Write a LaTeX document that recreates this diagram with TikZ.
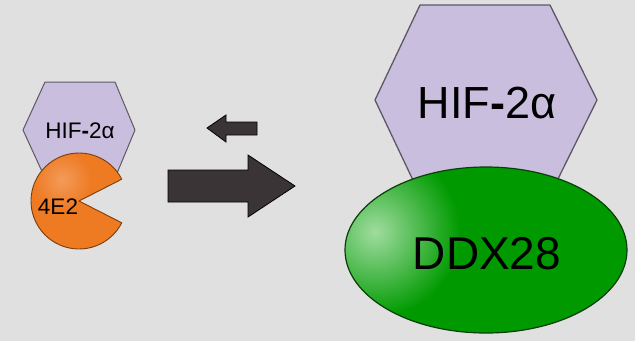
\documentclass[tikz,border=0pt]{standalone}
\usepackage{fontspec}
\setmainfont{Liberation Sans}
\definecolor{bgc}{HTML}{E0E0E0}
\definecolor{lav}{HTML}{C9BEDD}
\definecolor{lavedge}{HTML}{5E5866}
\definecolor{orng}{HTML}{EE7A22}
\definecolor{orngedge}{HTML}{7A3E0C}
\definecolor{arrfill}{HTML}{3B3436}
\definecolor{grn}{HTML}{009A00}
\definecolor{grnlight}{HTML}{A0DCA0}
\definecolor{grnedge}{HTML}{0B3D0B}
\tikzset{
  hexbox/.style={fill=lav, draw=lavedge, line width=1pt, line join=round},
  blockarrow/.style={fill=arrfill, draw=black, line width=0.8pt, line join=miter},
  lbl/.style={inner sep=0pt, text=black}
}
\begin{document}
\begin{tikzpicture}[x=1pt,y=-1pt]
\fill[bgc] (0,0) rectangle (635,341);
\useasboundingbox (0,0) rectangle (635,341);
% small complex
\draw[hexbox] (45,82) -- (115,82) -- (135,130) -- (115,178) -- (45,178) -- (23,130) -- cycle;
\node[lbl, font=\fontsize{22.5}{22.5}\selectfont] (hifs) at (80,131) {HIF{\bfseries -}2α};
\begin{scope}
\clip (79,201) -- +(-27:48) arc[start angle=-27, end angle=-333, radius=48] -- cycle;
\fill[orng] (0,0) rectangle (200,300);
\shade[inner color=orng!75!white, outer color=orng] (62,180) circle (30);
\end{scope}
\draw[orngedge, line width=0.9pt, line join=round] (79,201) -- +(-27:48) arc[start angle=-27, end angle=-333, radius=48] -- cycle;
\node[lbl, font=\fontsize{22.5}{22.5}\selectfont] (e2) at (58,207) {4E2};
% arrows
\draw[blockarrow] (207,128) -- (226,115) -- (226,122) -- (257,122) -- (257,135) -- (226,135) -- (226,142) -- cycle;
\draw[blockarrow] (295,186) -- (248,155) -- (248,170) -- (168,170) -- (168,202) -- (248,202) -- (248,217) -- cycle;
% large complex
\draw[hexbox, line width=1.3pt] (420,5) -- (550,5) -- (597,100) -- (550,195) -- (420,195) -- (375,100) -- cycle;
\node[lbl, font=\fontsize{45}{45}\selectfont] (hifl) at (487,103) {HIF{\bfseries -}2α};
\begin{scope}
\clip (486,250) ellipse [x radius=141, y radius=83];
\fill[grn] (340,160) rectangle (632,340);
\shade[inner color=grnlight, outer color=grn] (375,232) circle (85);
\end{scope}
\draw[grnedge, line width=1.2pt] (486,250) ellipse [x radius=141, y radius=83];
\node[lbl, font=\fontsize{46}{46}\selectfont] (ddx) at (487,254) {DDX28};
\end{tikzpicture}
\end{document}
